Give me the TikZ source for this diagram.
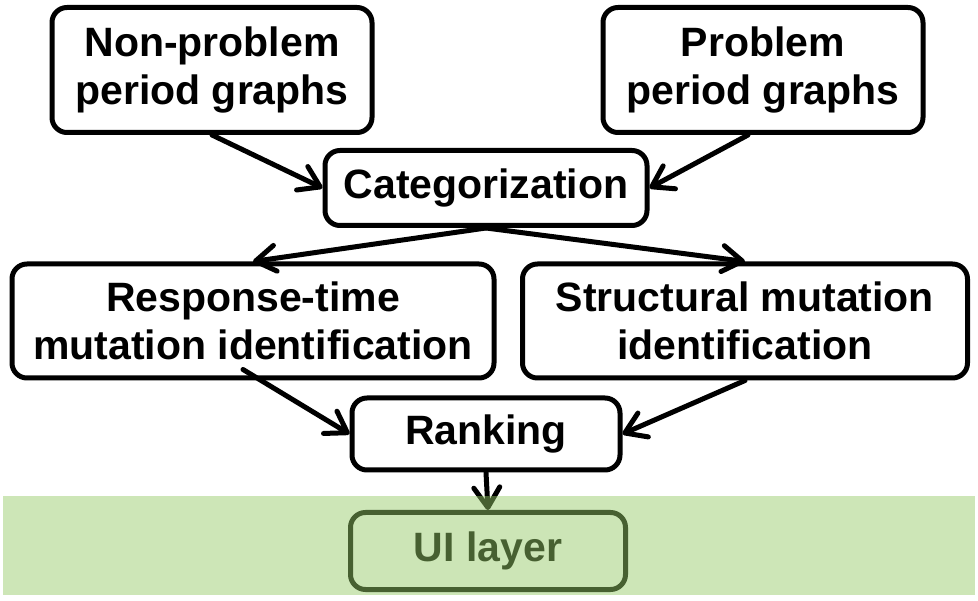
\documentclass[tikz,border=0pt]{standalone}
\usepackage{fontspec}
\setmainfont{Liberation Sans}
\usetikzlibrary{arrows.meta}
\definecolor{bandgreen}{RGB}{150,202,104}
\begin{document}
\begin{tikzpicture}[x=1pt,y=-1pt,
  box/.style={draw=black, line width=5pt, rounded corners=15pt, inner sep=0pt,
    align=center, fill=white, font=\fontsize{41}{48}\selectfont\bfseries},
  conn/.style={line width=5pt, line cap=round,
    -{Straight Barb[length=20pt,width=26pt,line cap=round,line join=round]}},
  band/.style={fill=bandgreen, fill opacity=0.48, draw=none}]
\useasboundingbox (0,0) rectangle (978,601);
\node[box, minimum width=320pt, minimum height=125pt] (np) at (212,70) {Non-problem\\period graphs};
\node[box, minimum width=320pt, minimum height=125pt] (pp) at (763,70) {Problem\\period graphs};
\node[box, minimum width=322pt, minimum height=75pt] (cat) at (486,188) {Categorization};
\node[box, minimum width=482pt, minimum height=114pt] (rt) at (253,321) {Response-time\\mutation identification};
\node[box, minimum width=445pt, minimum height=114pt] (st) at (745,321) {Structural mutation\\identification};
\node[box, minimum width=268pt, minimum height=72pt] (rank) at (486,434) {Ranking};
\node[box, minimum width=275pt, minimum height=77pt] (ui) at (488,551) {UI layer};
\draw[conn] (np.south) -- (cat.west);
\draw[conn] ([xshift=-15pt]pp.south) -- (cat.east);
\draw[conn] (cat.south) -- (rt.north);
\draw[conn] (cat.south) -- (st.north);
\draw[conn] ([xshift=-10pt,yshift=11pt]rt.south) -- (rank.west);
\draw[conn] (st.south) -- (rank.east);
\draw[conn] (rank.south) -- (ui.north);
\fill[band] (3,496) rectangle (975,595);
\end{tikzpicture}
\end{document}
